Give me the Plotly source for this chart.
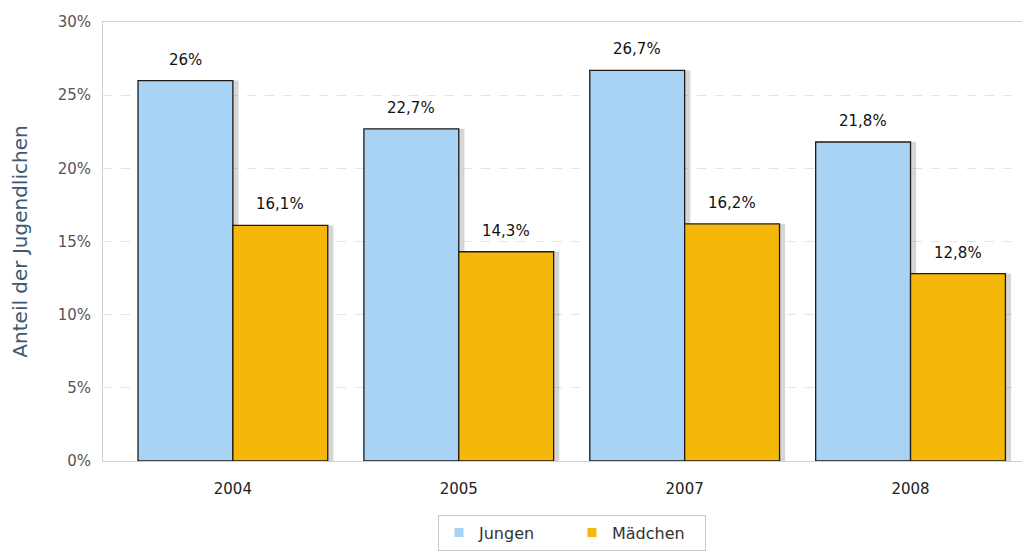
import plotly.graph_objects as go

years = ["2004", "2005", "2007", "2008"]
jungen = [26.0, 22.7, 26.7, 21.8]
maedchen = [16.1, 14.3, 16.2, 12.8]
series_names = ["Jungen", "Mädchen"]
colors = ["#a9d3f5", "#f5b80a"]


def fmt(v):
    return f"{v:g}".replace(".", ",") + "%"


BW = 0.42
FONT = "DejaVu Sans"
fig = go.Figure()

# soft shadows at right of bars
for vals, off in [(jungen, -BW + 0.025), (maedchen, 0.025)]:
    fig.add_trace(go.Bar(x=years, y=vals, width=BW, offset=off,
                         marker=dict(color="rgba(0,0,0,0.16)", line=dict(width=0)),
                         showlegend=False, hoverinfo="skip"))

for vals, off, name, col in [(jungen, -BW, series_names[0], colors[0]),
                             (maedchen, 0, series_names[1], colors[1])]:
    fig.add_trace(go.Bar(x=years, y=vals, width=BW, offset=off, name=name,
                         marker=dict(color=col, line=dict(color="#1b1b1b", width=1.3)),
                         showlegend=False))
    for i, v in enumerate(vals):
        fig.add_annotation(x=i + off + BW / 2, y=v, text=fmt(v), showarrow=False,
                           yshift=10, yanchor="bottom",
                           font=dict(family=FONT, size=15, color="#111"))

# legend entries
for name, col in zip(series_names, colors):
    fig.add_trace(go.Scatter(x=[None], y=[None], mode="markers", name=name,
                             marker=dict(symbol="square", size=9, color=col)))

fig.update_layout(
    width=1022, height=546,
    barmode="overlay",
    plot_bgcolor="white", paper_bgcolor="white",
    margin=dict(l=95, r=2, t=14, b=93),
    font=dict(family=FONT, size=15, color="#333"),
    legend=dict(orientation="h", x=0.507, xanchor="center", y=-0.122, yanchor="top",
                bordercolor="#c8c8c8", borderwidth=1, font=dict(size=16, color="#333"),
                itemwidth=30, entrywidth=88, entrywidthmode="pixels"),
    xaxis=dict(type="category", range=[-0.575, 3.52], showgrid=False, automargin=False,
               showline=True, linecolor="#d0d0d0", mirror=True, ticks="",
               ticklabelstandoff=14,
               tickfont=dict(size=15, color="#222")),
    yaxis=dict(range=[0, 30], dtick=5, ticksuffix="%", showgrid=True, automargin=False,
               gridcolor="#e4e4e4", griddash="dash", zeroline=False,
               showline=True, linecolor="#d0d0d0", mirror=True,
               ticklabelstandoff=8,
               tickfont=dict(size=15, color="#555"),
               title=dict(text="Anteil der Jugendlichen", standoff=24,
                          font=dict(size=20, color="#3e5a73"))),
)

fig.write_html("out.html")
